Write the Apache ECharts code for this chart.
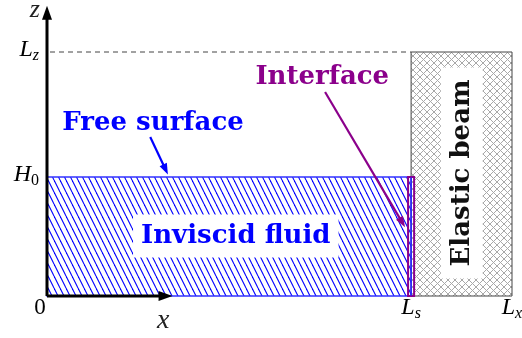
<!DOCTYPE html>
<html><head><meta charset="utf-8">
<script src="https://cdn.jsdelivr.net/npm/echarts@6/dist/echarts.min.js"></script>
<style>html,body{margin:0;padding:0;background:#fff}#c{width:522px;height:338px}</style>
</head><body><div id="c"></div>
<script>
// Domain values (normalized units: Lx = 1, Lz = 1)
const Lx = 1.0, Ls = 0.783, Lz = 1.0, H0 = 0.488;
const interfaceWidth = 0.013;
const zAxisTop = 1.19, xAxisEnd = 0.27;
// Tick labels
const tickLabelsX = ['0', 'L_s', 'L_x'];
const tickLabelsZ = ['L_z', 'H_0'];
// Annotation arrows: [x0, z0, x1, z1]
const freeSurfaceArrow = [0.222, 0.652, 0.260, 0.498];
const interfaceArrow = [0.598, 0.836, 0.770, 0.282];
// Text labels: [text, x, z]
const freeSurfaceLabel = ['Free surface', 0.228, 0.706];
const fluidLabel = ['Inviscid fluid', 0.406, 0.246];
const interfaceLabel = ['Interface', 0.592, 0.895];
const beamLabel = ['Elastic beam', 0.892, 0.504];

function hatch(w, h, color, cross, lw) {
  const c = document.createElement('canvas'); c.width = w; c.height = h;
  const g = c.getContext('2d'); g.strokeStyle = color; g.lineWidth = lw;
  for (let k = -1; k <= 1; k++) {
    g.beginPath(); g.moveTo(k * w, 0); g.lineTo(k * w + w, h); g.stroke();
    if (cross) { g.beginPath(); g.moveTo(k * w + w, 0); g.lineTo(k * w, h); g.stroke(); }
  }
  return { image: c, repeat: 'repeat' };
}
const fluidPattern = hatch(6, 12, '#0000ff', false, 1.1);
const beamPattern = hatch(7, 7, '#a8a8a8', true, 1);

const serif = '"DejaVu Serif", "Liberation Serif", serif';
const mserif = '"Liberation Serif", "DejaVu Serif", serif';
const mathRich = {
  m: { fontFamily: mserif, fontStyle: 'italic', fontSize: 24, color: '#222' },
  s: { fontFamily: mserif, fontStyle: 'italic', fontSize: 16, color: '#222', padding: [12, 0, 0, 0] },
  n: { fontFamily: mserif, fontSize: 16, color: '#222', padding: [12, 0, 0, 0] },
  z: { fontFamily: mserif, fontSize: 23, color: '#222' }
};
function mathText(t) {
  if (t === '0') return '{z|0}';
  const [a, b] = t.split('_');
  return '{m|' + a + '}{' + (/[0-9]/.test(b) ? 'n' : 's') + '|' + b + '}';
}

function arrow(api, a, color, lw, head) {
  const p0 = api.coord([a[0], a[1]]), p1 = api.coord([a[2], a[3]]);
  const ang = Math.atan2(p1[1] - p0[1], p1[0] - p0[0]);
  const L = head[0], W = head[1];
  const bx = p1[0] - L * Math.cos(ang), by = p1[1] - L * Math.sin(ang);
  const nx = -Math.sin(ang) * W, ny = Math.cos(ang) * W;
  return [
    { type: 'line', shape: { x1: p0[0], y1: p0[1], x2: bx + L * 0.2 * Math.cos(ang), y2: by + L * 0.2 * Math.sin(ang) }, style: { stroke: color, lineWidth: lw } },
    { type: 'polygon', shape: { points: [[p1[0], p1[1]], [bx + nx, by + ny], [bx - nx, by - ny]] }, style: { fill: color } }
  ];
}

function renderScene(params, api) {
  const ch = [];
  const c = (x, z) => api.coord([x, z]);
  // Beam
  const b0 = c(Ls, Lz), b1 = c(Lx, 0);
  ch.push({ type: 'rect', shape: { x: b0[0], y: b0[1], width: b1[0] - b0[0], height: b1[1] - b0[1] }, style: { fill: beamPattern, stroke: '#444', lineWidth: 1 } });
  // Dashed Lz line
  const d0 = c(0, Lz), d1 = c(Ls, Lz);
  ch.push({ type: 'line', shape: { x1: d0[0] + 3, y1: d0[1], x2: d1[0], y2: d1[1] }, style: { stroke: '#444', lineWidth: 1, lineDash: [5, 4] } });
  // Fluid
  const f0 = c(0, H0), f1 = c(Ls, 0);
  ch.push({ type: 'rect', shape: { x: f0[0], y: f0[1], width: f1[0] - f0[0], height: f1[1] - f0[1] }, style: { fill: fluidPattern, stroke: '#3333ff', lineWidth: 1.5 } });
  // Interface
  const i0 = c(Ls - interfaceWidth / 2, H0), i1 = c(Ls + interfaceWidth / 2, 0);
  ch.push({ type: 'rect', shape: { x: i0[0], y: i0[1], width: i1[0] - i0[0], height: i1[1] - i0[1] }, style: { fill: 'rgba(0,0,0,0)', stroke: '#8b008b', lineWidth: 2 } });
  ch.push({ type: 'line', shape: { x1: (i0[0] + i1[0]) / 2, y1: i0[1], x2: (i0[0] + i1[0]) / 2, y2: i1[1] }, style: { stroke: '#2222ff', lineWidth: 1 } });
  // Axes
  ch.push(...arrow(api, [0, 0, 0, zAxisTop], '#000', 3, [14, 5]));
  ch.push(...arrow(api, [0, 0, xAxisEnd, 0], '#000', 3, [14, 5]));
  // Axis names
  let p = c(-0.026, 1.172);
  ch.push({ type: 'text', x: p[0], y: p[1], style: { text: 'z', font: 'italic 26px ' + mserif, fill: '#222', align: 'center', verticalAlign: 'middle' } });
  p = c(0.25, -0.1);
  ch.push({ type: 'text', x: p[0], y: p[1], style: { text: 'x', font: 'italic 28px ' + mserif, fill: '#222', align: 'center', verticalAlign: 'middle' } });
  // Tick labels
  const xt = [0, Ls, Lx];
  tickLabelsX.forEach((t, i) => {
    const q = c(xt[i], 0);
    ch.push({ type: 'text', x: q[0] + (i === 0 ? -7 : 0), y: q[1] + 12, style: { text: mathText(t), rich: mathRich, align: 'center', verticalAlign: 'middle' } });
  });
  const zt = [Lz, H0];
  tickLabelsZ.forEach((t, i) => {
    const q = c(0, zt[i]);
    ch.push({ type: 'text', x: q[0] - 8, y: q[1] - 2, style: { text: mathText(t), rich: mathRich, align: 'right', verticalAlign: 'middle' } });
  });
  // Annotation arrows
  ch.push(...arrow(api, freeSurfaceArrow, '#0000ff', 2.2, [11, 4]));
  ch.push(...arrow(api, interfaceArrow, '#8b008b', 2.2, [11, 4]));
  // Labels
  const boldFont = 'bold 26px ' + serif;
  p = c(freeSurfaceLabel[1], freeSurfaceLabel[2]);
  ch.push({ type: 'text', x: p[0], y: p[1], style: { text: freeSurfaceLabel[0], font: boldFont, fill: '#0000ff', align: 'center', verticalAlign: 'middle' } });
  p = c(fluidLabel[1], fluidLabel[2]);
  ch.push({ type: 'text', x: p[0], y: p[1], style: { text: fluidLabel[0], font: boldFont, fill: '#0000ff', align: 'center', verticalAlign: 'middle', backgroundColor: '#fff', padding: [8, 8, 9, 8] } });
  p = c(interfaceLabel[1], interfaceLabel[2]);
  ch.push({ type: 'text', x: p[0], y: p[1], style: { text: interfaceLabel[0], font: boldFont, fill: '#8b008b', align: 'center', verticalAlign: 'middle' } });
  p = c(beamLabel[1], beamLabel[2]);
  ch.push({ type: 'text', x: p[0], y: p[1], rotation: Math.PI / 2, style: { text: beamLabel[0], font: boldFont, fill: '#111', align: 'center', verticalAlign: 'middle', backgroundColor: '#fff', padding: [8, 12, 8, 12] } });
  return { type: 'group', children: ch };
}

const chart = echarts.init(document.getElementById('c'));
chart.setOption({
  animation: false,
  grid: { left: 47, top: 52, width: 465, height: 244 },
  xAxis: { type: 'value', min: 0, max: Lx, show: false },
  yAxis: { type: 'value', min: 0, max: Lz, show: false },
  series: [{ type: 'custom', clip: false, data: [[0, 0]], renderItem: renderScene }]
});
</script></body></html>
